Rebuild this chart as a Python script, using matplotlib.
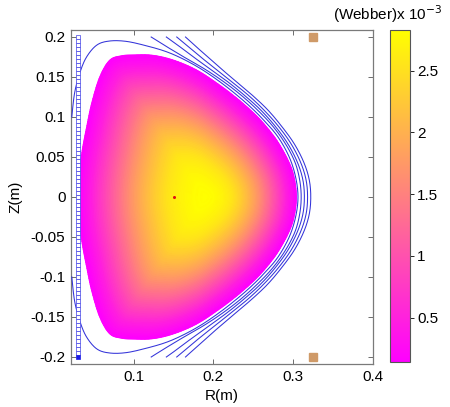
import numpy as np
import matplotlib
matplotlib.use("Agg")
import matplotlib.pyplot as plt

plt.rcParams['font.family'] = ['Liberation Sans', 'DejaVu Sans']
plt.rcParams['axes.unicode_minus'] = False

# ---- data ----
# plasma boundary, upper half (R, Z) in m, from outboard midplane to inboard midplane
bnd_R = [0.304, 0.301, 0.294, 0.280, 0.262, 0.245, 0.225, 0.204, 0.182, 0.161,
         0.140, 0.120, 0.100, 0.085, 0.070, 0.0575, 0.0475, 0.041, 0.0355, 0.0315, 0.030]
bnd_Z = [0.0, 0.025, 0.045, 0.070, 0.093, 0.110, 0.127, 0.1425, 0.157, 0.167,
         0.174, 0.1775, 0.1775, 0.1765, 0.171, 0.150, 0.1175, 0.087, 0.058, 0.029, 0.0]
# magnetic axis (peak of flux)
axis_R, axis_Z = 0.19, 0.0
# flux profile vs normalised radius (x 1e-3 Weber)
rho_prof = [0.0, 0.1, 0.2, 0.3, 0.4, 0.5, 0.6, 0.7, 0.8, 0.9, 1.0]
psi_prof = [2.83, 2.80, 2.70, 2.55, 2.30, 2.00, 1.65, 1.25, 0.85, 0.45, 0.14]
psi_min, psi_max = 0.14, 2.83

# separatrix-like flux line, upper half (from the inner wall to outboard midplane)
sep_R = [0.0225, 0.026, 0.0325, 0.041, 0.054, 0.070, 0.091, 0.116, 0.140, 0.161,
         0.183, 0.204, 0.225, 0.246, 0.264, 0.281, 0.295, 0.303, 0.306]
sep_Z = [0.100, 0.130, 0.155, 0.175, 0.190, 0.195, 0.1945, 0.189, 0.182, 0.173,
         0.161, 0.147, 0.131, 0.113, 0.095, 0.075, 0.050, 0.025, 0.0]
# open flux lines, upper half
open_Z = [0.2, 0.19, 0.175, 0.16, 0.144, 0.127, 0.109, 0.089, 0.067, 0.044, 0.022, 0.0]
open_R1 = [0.122, 0.138, 0.163, 0.189, 0.213, 0.235, 0.255, 0.274, 0.290, 0.302, 0.308, 0.310]
open_R2 = [0.141, 0.155, 0.175, 0.196, 0.218, 0.239, 0.259, 0.277, 0.293, 0.305, 0.312, 0.314]
open_R3 = [0.154, 0.166, 0.184, 0.203, 0.223, 0.244, 0.263, 0.281, 0.297, 0.309, 0.316, 0.318]
open_R4 = [0.165, 0.176, 0.193, 0.210, 0.229, 0.249, 0.268, 0.285, 0.301, 0.313, 0.320, 0.322]

# coils
cs_R = 0.030
cs_Z = np.linspace(-0.2, 0.2, 81)
pf_R = [0.325, 0.325]
pf_Z = [0.2, -0.2]
dot_R, dot_Z = 0.15, 0.0

xticks = [0.1, 0.2, 0.3, 0.4]
xticklabels = ['0.1', '0.2', '0.3', '0.4']
yticks = [-0.2, -0.15, -0.1, -0.05, 0, 0.05, 0.1, 0.15, 0.2]
yticklabels = ['-0.2', '-0.15', '-0.1', '-0.05', '0', '0.05', '0.1', '0.15', '0.2']
cticks = [0.5, 1, 1.5, 2, 2.5]
cticklabels = ['0.5', '1', '1.5', '2', '2.5']


# ---- drawing helpers (smooth curves through read points) ----
def catmull(P, n=20, closed=False):
    P = np.asarray(P, float)
    if closed:
        Q = np.vstack([P[-1], P, P[0], P[1]])
    else:
        Q = np.vstack([P[0], P, P[-1]])
    out = []
    for i in range(1, len(Q) - 2):
        p0, p1, p2, p3 = Q[i - 1], Q[i], Q[i + 1], Q[i + 2]
        t = np.linspace(0, 1, n, endpoint=False)[:, None]
        pts = 0.5 * ((2 * p1) + (-p0 + p2) * t + (2 * p0 - 5 * p1 + 4 * p2 - p3) * t ** 2
                     + (-p0 + 3 * p1 - 3 * p2 + p3) * t ** 3)
        out.append(pts)
    if not closed:
        out.append(P[-1][None, :])
    return np.vstack(out)


def mirror_full(R, Z):
    R = list(R); Z = list(Z)
    return R + R[-2::-1], Z + [-z for z in Z[-2::-1]]


fig = plt.figure(figsize=(4.5, 4.07), dpi=100)
ax = fig.add_axes([71 / 450, 1 - 364 / 407, 302 / 450, 334 / 407])
cax = fig.add_axes([390 / 450, 1 - 362 / 407, 20 / 450, 332 / 407])

# plasma flux fill
bR_full = list(bnd_R) + [r for r in bnd_R[-2:0:-1]]
bZ_full = list(bnd_Z) + [-z for z in bnd_Z[-2:0:-1]]
B = catmull(np.column_stack([bR_full, bZ_full]), n=12, closed=True)
B = np.vstack([B, B[0]])
rho = np.linspace(0, 1, 80)
X = axis_R + rho[:, None] * (B[None, :, 0] - axis_R)
Y = axis_Z + rho[:, None] * (B[None, :, 1] - axis_Z)
C = np.interp(rho, rho_prof, psi_prof)[:, None] * np.ones((1, B.shape[0]))
mesh = ax.pcolormesh(X, Y, C, cmap='spring', shading='gouraud',
                     vmin=psi_min, vmax=psi_max, zorder=1)

line_kw = dict(color=(0.2, 0.2, 0.85), lw=0.75, zorder=3)
sR, sZ = mirror_full(sep_R, sep_Z)
S = catmull(np.column_stack([sR, sZ]))
ax.plot(S[:, 0], S[:, 1], **line_kw)
for oR in (open_R1, open_R2, open_R3, open_R4):
    lR, lZ = mirror_full(oR, open_Z)
    L = catmull(np.column_stack([lR, lZ]))
    ax.plot(L[:, 0], L[:, 1], **line_kw)

ax.plot(np.full(len(cs_Z) - 1, cs_R), cs_Z[1:], 's', ms=2.5, mfc='white',
        mec=(0.25, 0.25, 0.9), mew=0.5, zorder=4)
ax.plot([cs_R], [cs_Z[0]], 's', ms=2.5, mfc=(0.1, 0.1, 0.9),
        mec=(0.1, 0.1, 0.9), mew=0.5, zorder=4)
ax.plot(pf_R, pf_Z, 's', ms=6, color='#cf9a68', zorder=4)
ax.plot([dot_R], [dot_Z], 'o', ms=2.2, color='#e01010', mec='none', zorder=5)

ax.set_xlim(0.0215, 0.4)
ax.set_ylim(-0.20875, 0.20875)
ax.set_xticks(xticks)
ax.set_xticklabels(xticklabels)
ax.set_yticks(yticks)
ax.set_yticklabels(yticklabels)
ax.tick_params(direction='in', top=True, right=True, length=3.5, width=0.6,
               labelsize=11, color='#555555', pad=4)
for sp in ax.spines.values():
    sp.set_color('#7a7a7a')
    sp.set_linewidth(0.9)
ax.set_xlabel('R(m)', fontsize=11, labelpad=4)
ax.set_ylabel('Z(m)', fontsize=11, labelpad=6)

cb = fig.colorbar(mesh, cax=cax)
cb.set_ticks(cticks)
cb.set_ticklabels(cticklabels)
cb.ax.tick_params(labelsize=11, length=3, width=0.6, direction='out', pad=2)
cb.outline.set_edgecolor('#555555')
cb.outline.set_linewidth(0.8)
fig.text(388 / 450, 1 - 20 / 407, '(Webber)x 10$^{-3}$', ha='center', va='baseline',
         fontsize=11)

fig.savefig('out.png', dpi=100)
